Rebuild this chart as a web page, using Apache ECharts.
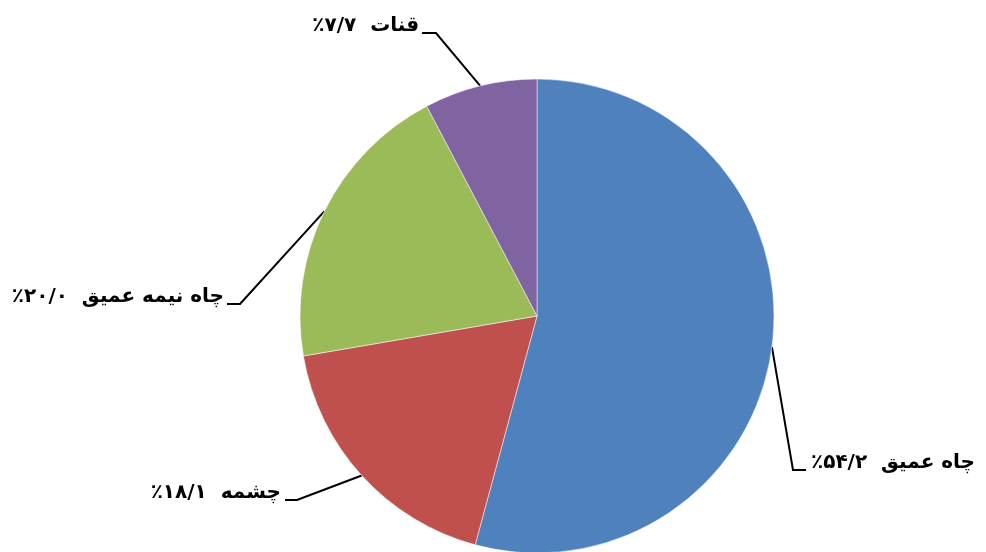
<!DOCTYPE html>
<html>
<head>
<meta charset="utf-8">
<title>pie</title>
<script src="https://cdn.jsdelivr.net/npm/echarts@6/dist/echarts.min.js"></script>
<style>
  html, body { margin: 0; padding: 0; background: #fff; }
  #chart { width: 986px; height: 552px; }
</style>
</head>
<body>
<div id="chart"></div>
<script>
// categories and shares (percent)
var names = ['چاه عمیق', 'چشمه', 'چاه نیمه عمیق', 'قنات'];
var shares = [54.2, 18.1, 20.0, 7.7];
var colors = ['#4F81BD', '#C0504D', '#9BBB59', '#8064A2'];

// where each label sits (Excel style, moved by hand): label anchor, bend and end of the leader
var labelSpots = [
  { x: 811, y: 463, align: 'left', bend: [793, 470], end: [806, 470] },
  { x: 281, y: 493, align: 'right', bend: [297, 500], end: [285, 500] },
  { x: 224, y: 297, align: 'right', bend: [240, 304], end: [227, 304] },
  { x: 419, y: 26, align: 'right', bend: [436, 33], end: [422, 33] }
];

// 54.2 -> ۵۴/۲٪
function faNum(v) {
  var fa = '۰۱۲۳۴۵۶۷۸۹';
  return v.toFixed(1).replace(/[0-9]/g, function (d) { return fa[+d]; }).replace('.', '/') + '٪';
}

var chart = echarts.init(document.getElementById('chart'));

var option = {
  animation: false,
  series: [
    {
      type: 'pie',
      center: [537, 316],
      radius: 237,
      startAngle: 90,
      clockwise: true,
      data: names.map(function (n, i) {
        return { name: n, value: shares[i], itemStyle: { color: colors[i] } };
      }),
      itemStyle: { borderColor: '#fff', borderWidth: 0.5 },
      emphasis: { disabled: true },
      label: {
        show: true,
        position: 'outside',
        color: '#000',
        fontSize: 20,
        fontWeight: 'bold',
        fontFamily: 'DejaVu Sans',
        formatter: function (p) {
          return p.name + '  ' + faNum(p.value) + '\u200F';
        }
      },
      labelLine: {
        show: true,
        length: 20,
        length2: 15,
        lineStyle: { color: '#000', width: 2 }
      },
      labelLayout: function (params) {
        var s = labelSpots[params.dataIndex];
        var start = params.labelLinePoints ? params.labelLinePoints[0] : s.bend;
        return {
          x: s.x,
          y: s.y,
          align: s.align,
          verticalAlign: 'middle',
          labelLinePoints: [start, s.bend, s.end]
        };
      }
    }
  ]
};

chart.setOption(option);
</script>
</body>
</html>
